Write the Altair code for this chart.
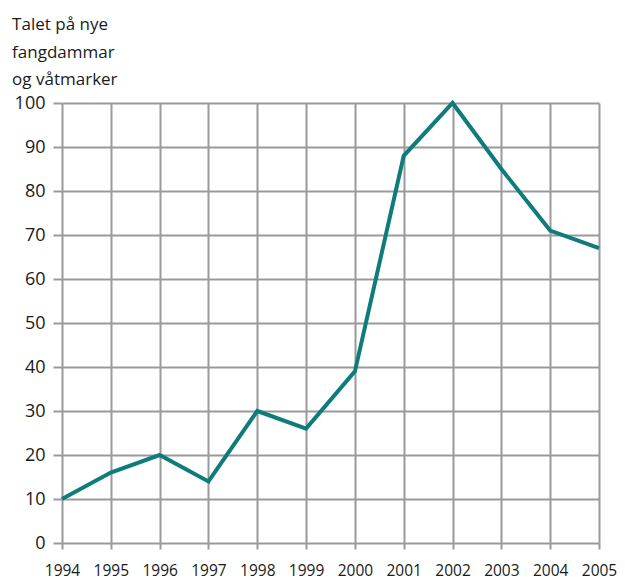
import altair as alt
import pandas as pd

years = [1994, 1995, 1996, 1997, 1998, 1999, 2000, 2001, 2002, 2003, 2004, 2005]
values = [10, 16, 20, 14, 30, 26, 39, 88, 100, 85, 71, 67]
y_ticks = list(range(0, 101, 10))
title_lines = ["Talet på nye", "fangdammar", "og våtmarker"]

df = pd.DataFrame({"year": years, "value": values})

FONT = "Open Sans"
GRID = "#9a9a9a"
TEXT = "#1a1a1a"

chart = alt.Chart(df).mark_line(color="#0e7c7b", strokeWidth=4, strokeJoin="miter", clip=False).encode(
    x=alt.X("year:Q", scale=alt.Scale(domain=[1994, 2005], nice=False, zero=False),
            axis=alt.Axis(values=years, format="d", title=None, grid=True, gridColor=GRID, gridWidth=2,
                          tickColor=GRID, tickWidth=2, tickSize=6, domain=False,
                          labelFont=FONT, labelFontSize=15.5, labelColor=TEXT, labelPadding=14,
                          labelFlush=False, labelOverlap=False)),
    y=alt.Y("value:Q", scale=alt.Scale(domain=[0, 100], nice=False),
            axis=alt.Axis(values=y_ticks, title=None, grid=True, gridColor=GRID, gridWidth=2,
                          tickColor=GRID, tickWidth=2, tickSize=9, domain=False,
                          labelFont=FONT, labelFontSize=18, labelColor=TEXT, labelPadding=8)),
).properties(
    width=609, height=572,
    autosize=alt.AutoSizeParams(type="fit", contains="padding"),
    padding={"left": 4, "top": 8, "right": 0, "bottom": 1},
    title=alt.TitleParams(text=title_lines, anchor="start", frame="bounds", font=FONT, fontSize=17,
                          fontWeight="normal", color=TEXT, lineHeight=27.5, offset=5, dx=-2),
).configure_view(stroke=None)

chart.save("out.html", embed_options={"renderer": "svg", "actions": False})
